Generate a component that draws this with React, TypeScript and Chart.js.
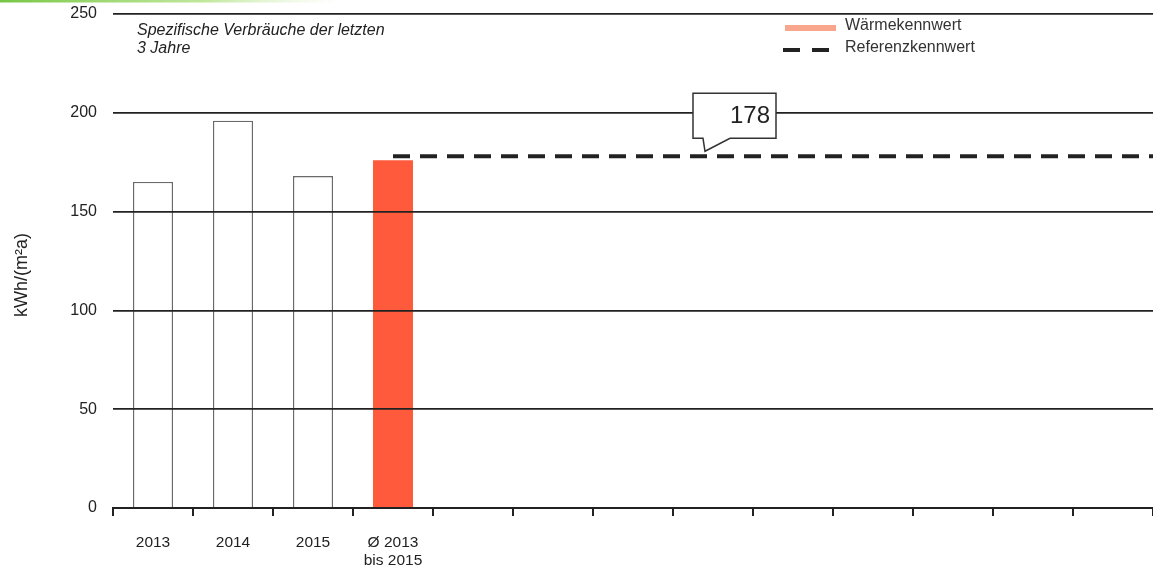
import { useEffect, useRef } from "react";
import { Chart, registerables } from "chart.js";

Chart.register(...registerables);

// Categories on the x axis (13 slots, the first four carry bars)
const categories: (string | string[])[] = [
  "2013",
  "2014",
  "2015",
  ["Ø 2013", "bis 2015"],
  "", "", "", "", "", "", "", "", "",
];

// Specific heat consumption per year and the three-year mean, kWh/(m²a)
const yearlyValues = [165, 196, 168];
const meanValue = 176;
const referenceValue = 178;
const referenceStart = 3; // starts at the mean bar
const referenceEnd = 12.5; // runs to the right edge
const calloutAt = 6.9; // slot position of the callout tip

const yTicks = [0, 50, 100, 150, 200, 250];

const titleLines = ["Spezifische Verbräuche der letzten", "3 Jahre"];
const legendLabels = ["Wärmekennwert", "Referenzkennwert"];
const yAxisTitle = "kWh/(m²a)";

const FONT = "Arial, 'Liberation Sans', Helvetica, sans-serif";
const INK = "#222";
const HEAT = "#FF5A3C";
const HEAT_LEGEND = "#F8A68C";

const decorations = {
  id: "decorations",
  beforeDraw(chart: any) {
    const ctx = chart.ctx;
    ctx.save();
    const g = ctx.createLinearGradient(0, 0, 340, 0);
    g.addColorStop(0, "rgba(110,195,60,0.95)");
    g.addColorStop(0.6, "rgba(150,215,90,0.6)");
    g.addColorStop(1, "rgba(200,235,160,0)");
    ctx.fillStyle = g;
    ctx.fillRect(0, 0, 340, 2.5);
    ctx.restore();
  },
  afterDraw(chart: any) {
    const ctx = chart.ctx;
    const area = chart.chartArea;
    const xl = chart.scales.xl;
    const y = chart.scales.y;
    ctx.save();

    // y axis unit, rotated
    ctx.save();
    ctx.translate(22, 275);
    ctx.rotate(-Math.PI / 2);
    ctx.fillStyle = INK;
    ctx.font = `18px ${FONT}`;
    ctx.textAlign = "center";
    ctx.textBaseline = "middle";
    ctx.fillText(yAxisTitle, 0, 0);
    ctx.restore();

    // chart heading inside the plot
    ctx.fillStyle = INK;
    ctx.font = `italic 16px ${FONT}`;
    ctx.textAlign = "left";
    ctx.textBaseline = "middle";
    titleLines.forEach((t, i) => ctx.fillText(t, area.left + 24, 31 + i * 18));

    // legend
    const lx = 785;
    ctx.fillStyle = HEAT_LEGEND;
    ctx.fillRect(lx, 25, 51, 6);
    ctx.strokeStyle = INK;
    ctx.lineWidth = 4;
    ctx.lineCap = "butt";
    ctx.setLineDash([17, 12]);
    ctx.beginPath();
    ctx.moveTo(lx - 2, 50);
    ctx.lineTo(lx + 49, 50);
    ctx.stroke();
    ctx.setLineDash([]);
    ctx.fillStyle = "#333";
    ctx.font = `16px ${FONT}`;
    ctx.fillText(legendLabels[0], 845, 26);
    ctx.fillText(legendLabels[1], 845, 48);

    // value callout pointing at the reference line
    const ax = xl.getPixelForValue(calloutAt);
    const ay = y.getPixelForValue(referenceValue) - 5;
    const left = ax - 12;
    const right = ax + 71;
    const top = ay - 58;
    const bottom = ay - 13;
    ctx.beginPath();
    ctx.moveTo(left, top);
    ctx.lineTo(right, top);
    ctx.lineTo(right, bottom);
    ctx.lineTo(ax + 25, bottom);
    ctx.lineTo(ax, ay);
    ctx.lineTo(ax - 2, bottom);
    ctx.lineTo(left, bottom);
    ctx.closePath();
    ctx.fillStyle = "#fff";
    ctx.fill();
    ctx.strokeStyle = "#333";
    ctx.lineWidth = 1.5;
    ctx.stroke();
    ctx.fillStyle = INK;
    ctx.font = `24px ${FONT}`;
    ctx.textAlign = "right";
    ctx.fillText(String(referenceValue), right - 6, (top + bottom) / 2 + 1);

    ctx.restore();
  },
};

export default function App() {
  const canvasRef = useRef<HTMLCanvasElement | null>(null);

  useEffect(() => {
    const canvas = canvasRef.current;
    if (!canvas) return;

    const barValues = [...yearlyValues, meanValue];
    const fills = barValues.map((_, i) => (i < yearlyValues.length ? "#fff" : HEAT));
    const borders = barValues.map((_, i) => (i < yearlyValues.length ? "#6a6a6a" : HEAT));
    const borderWidths = barValues.map((_, i) => (i < yearlyValues.length ? 1.4 : 0));

    const chart = new Chart(canvas, {
      type: "bar",
      data: {
        labels: categories,
        datasets: [
          {
            type: "bar",
            label: legendLabels[0],
            data: barValues,
            backgroundColor: fills,
            borderColor: borders,
            borderWidth: borderWidths,
            barPercentage: 0.5,
            categoryPercentage: 1,
            grouped: false,
            xAxisID: "x",
            order: 2,
          } as any,
          {
            type: "line",
            label: legendLabels[1],
            data: [
              { x: referenceStart, y: referenceValue },
              { x: referenceEnd, y: referenceValue },
            ],
            borderColor: INK,
            borderWidth: 4,
            borderDash: [17, 10],
            pointRadius: 0,
            xAxisID: "xl",
            order: 1,
          } as any,
        ],
      },
      options: {
        animation: false,
        responsive: false,
        devicePixelRatio: 1,
        layout: { padding: { top: 14, right: 0, left: 0, bottom: 0 } },
        plugins: {
          legend: { display: false },
          tooltip: { enabled: false },
        },
        scales: {
          x: {
            type: "category",
            offset: true,
            afterFit(scale: any) {
              scale.height = 61;
            },
            grid: {
              display: true,
              offset: true,
              drawOnChartArea: false,
              drawTicks: true,
              tickLength: 8,
              color: INK,
              lineWidth: 2,
            },
            border: { display: true, color: INK, width: 2 },
            ticks: {
              color: INK,
              font: { family: FONT, size: 15.5, lineHeight: 1.2 },
              padding: 17,
              maxRotation: 0,
              autoSkip: false,
            },
          },
          xl: {
            type: "linear",
            display: false,
            offset: false,
            min: -0.5,
            max: 12.5,
          },
          y: {
            min: 0,
            max: 250,
            afterFit(scale: any) {
              scale.width = 113;
              scale.paddingTop = 0;
              scale.paddingBottom = 0;
            },
            afterBuildTicks(scale: any) {
              scale.ticks = yTicks.map((v) => ({ value: v }));
            },
            grid: {
              color: INK,
              lineWidth: 1.8,
              drawTicks: false,
              z: 1,
            },
            border: { display: false },
            ticks: {
              color: INK,
              font: { family: FONT, size: 16 },
              padding: 16,
            },
          },
        },
      },
      plugins: [decorations],
    });

    return () => chart.destroy();
  }, []);

  return (
    <div style={{ position: "fixed", left: 0, top: 0, width: 1153, height: 569, background: "#fff" }}>
      <canvas ref={canvasRef} width={1153} height={569} style={{ width: 1153, height: 569, display: "block" }} />
    </div>
  );
}
